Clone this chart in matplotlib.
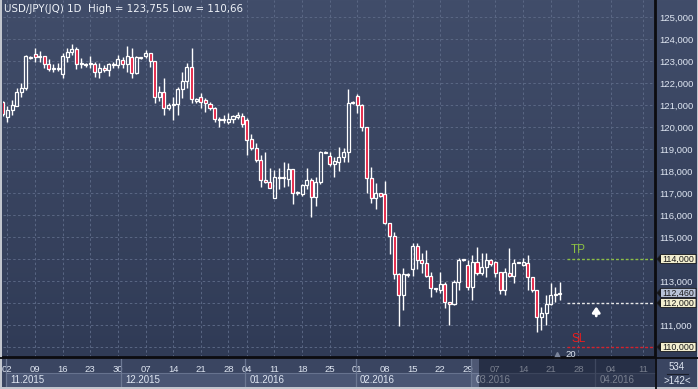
import numpy as np
import matplotlib
matplotlib.use("Agg")
import matplotlib.pyplot as plt
from matplotlib.patches import Rectangle, Polygon
from matplotlib.colors import LinearSegmentedColormap

# ---------------- data ----------------
opens = [121.15, 120.47, 120.77, 120.97, 121.58, 121.76, 123.2, 123.3, 123.18, 123.23,
         122.85, 122.64, 122.65, 122.4, 123.2, 123.42, 123.55, 122.86, 122.88, 122.86,
         122.85, 122.48, 122.7, 122.58, 122.85, 122.8, 123.05, 122.88, 123.2, 122.45,
         123.14, 123.23, 123.35, 123.0, 121.38, 121.58, 120.85, 121.0, 121.03, 121.73,
         122.1, 122.71, 121.18, 121.36, 121.23, 121.03, 120.85, 120.35, 120.32, 120.24,
         120.38, 120.46, 120.52, 120.3, 119.44, 119.03, 118.5, 117.58, 117.48, 116.79,
         117.74, 117.69, 117.65, 118.08, 117.0, 116.95, 117.35, 117.59, 116.83, 117.48,
         118.86, 118.7, 118.32, 118.42, 118.62, 118.86, 121.1, 121.41, 121.0, 119.98,
         117.7, 116.76, 116.98, 116.94, 115.65, 115.05, 113.3, 112.35, 113.3, 113.53,
         114.59, 113.95, 113.83, 113.23, 112.67, 112.59, 112.86, 112.06, 111.95, 112.97,
         113.98, 113.73, 112.71, 113.85, 113.35, 113.62, 113.95, 113.85, 113.42, 112.59,
         113.38, 113.23, 113.82, 113.73, 113.8, 113.2, 112.59, 111.38, 111.53, 111.95,
         112.38, 112.41]
highs = [121.2, 120.97, 121.23, 121.79, 121.98, 123.27, 123.25, 123.58, 123.47, 123.25,
         123.08, 122.85, 122.89, 123.35, 123.58, 123.755, 123.65, 123.12, 122.9, 123.24,
         122.97, 122.9, 122.82, 122.9, 122.97, 123.27, 123.2, 123.68, 123.58, 123.25,
         123.2, 123.5, 123.38, 123.0, 121.88, 122.24, 121.08, 121.38, 121.83, 122.48,
         122.89, 123.6, 121.3, 121.53, 121.3, 121.15, 120.92, 120.47, 120.55, 120.62,
         120.55, 120.7, 120.62, 120.39, 119.68, 119.26, 118.73, 118.85, 118.12, 118.05,
         118.12, 118.42, 118.38, 118.1, 117.1, 117.41, 118.12, 117.67, 117.74, 118.91,
         118.9, 118.86, 118.62, 119.08, 119.03, 121.71, 121.16, 121.5, 121.05, 120.02,
         118.2, 117.44, 117.0, 117.55, 115.65, 115.24, 113.35, 113.58, 113.35, 114.74,
         114.74, 114.26, 114.4, 113.42, 112.7, 113.42, 112.97, 112.06, 113.05, 114.03,
         114.0, 113.95, 114.18, 114.56, 114.26, 114.26, 114.0, 113.92, 113.42, 113.58,
         114.48, 113.98, 113.87, 114.03, 114.18, 113.2, 112.59, 111.83, 112.36, 112.9,
         112.74, 112.97]
lows = [120.5, 120.24, 120.55, 120.95, 121.38, 121.7, 123.1, 122.97, 122.97, 122.67,
        122.55, 122.52, 122.55, 122.21, 122.97, 123.27, 122.62, 122.67, 122.75, 122.67,
        122.29, 122.23, 122.52, 122.3, 122.67, 122.67, 122.7, 122.52, 122.24, 122.4,
        123.1, 123.12, 122.71, 121.08, 121.18, 120.55, 120.77, 120.32, 120.55, 121.3,
        121.76, 121.08, 121.08, 120.85, 120.7, 120.77, 120.21, 120.02, 120.2, 120.15,
        120.2, 120.35, 120.0, 118.73, 118.95, 118.42, 117.29, 117.44, 117.21, 116.79,
        117.2, 117.29, 117.32, 116.5, 116.9, 116.85, 117.2, 115.92, 116.41, 117.41,
        118.83, 118.23, 117.74, 118.0, 118.41, 118.42, 121.05, 120.65, 119.83, 117.02,
        116.53, 116.26, 116.83, 115.59, 114.23, 113.09, 110.97, 111.68, 113.2, 113.23,
        113.53, 113.35, 113.2, 112.29, 112.52, 112.44, 111.76, 111.0, 111.9, 112.59,
        113.93, 112.59, 112.14, 113.27, 113.27, 113.2, 113.7, 113.2, 112.41, 112.36,
        113.2, 112.92, 113.8, 113.7, 112.59, 112.52, 110.7, 110.77, 111.0, 111.9,
        112.06, 112.14]
closes = [120.58, 120.77, 121.0, 121.58, 121.76, 123.23, 123.12, 123.18, 123.23, 122.85,
          122.62, 122.67, 122.64, 123.24, 123.39, 123.53, 122.85, 122.88, 122.8, 122.88,
          122.48, 122.7, 122.58, 122.85, 122.83, 123.08, 122.85, 123.24, 122.44, 123.2,
          123.16, 123.35, 123.0, 121.38, 121.58, 120.85, 121.0, 121.05, 121.73, 122.1,
          122.71, 121.26, 121.26, 121.12, 121.1, 120.85, 120.35, 120.33, 120.35, 120.38,
          120.48, 120.55, 120.12, 119.41, 119.03, 118.5, 117.59, 117.5, 117.24, 117.74,
          117.7, 117.72, 118.08, 116.99, 117.02, 117.35, 117.59, 116.83, 117.48, 118.86,
          118.85, 118.32, 118.45, 118.62, 118.86, 121.08, 121.14, 121.0, 119.98, 117.7,
          116.76, 116.98, 116.86, 115.65, 115.05, 113.3, 112.35, 113.3, 113.27, 114.59,
          113.95, 113.8, 113.23, 112.67, 112.63, 112.86, 112.06, 111.95, 112.97, 113.95,
          113.95, 112.71, 113.85, 113.35, 113.62, 113.95, 113.77, 113.38, 112.59, 113.42,
          113.23, 113.8, 113.85, 113.85, 113.2, 112.59, 111.38, 111.53, 111.95, 112.36,
          112.41, 112.46]

price_ticks = list(range(110, 126))
week_idx = [1, 7, 13, 19, 25, 31, 37, 43, 49, 53, 59, 65, 71, 77, 83, 89, 95, 101,
            107, 113, 119, 125, 132, 139]
week_labels = ['02', '09', '16', '23', '30', '07', '14', '21', '28', '04', '11', '18',
               '25', '01', '08', '15', '22', '29', '07', '14', '21', '28', '04', '11']
month_idx = [1, 26, 53, 77, 102, 129]
month_labels = ['11.2015', '12.2015', '01.2016', '02.2016', '03.2016', '04.2016']

title = "USD/JPY(JQ) 1D  High = 123,755 Low = 110,66"
tp_level = 114.0
entry_level = 112.0
sl_level = 110.0
last_price = 112.46
tag_levels = [114.0, 112.0, 110.0]
bars_total = "534"
bars_visible = ">142<"
lot_label = "20"

# ---------------- layout ----------------
plt.rcParams['font.family'] = ['Liberation Sans', 'DejaVu Sans']
W, H = 698, 389
PL, PR, PT, PB = 3, 655, 0, 357
FS = 6.8
LBL = '#dfe6f2'

fig = plt.figure(figsize=(W / 100, H / 100), dpi=100)
fig.patch.set_facecolor('#3a4561')

bg = fig.add_axes([0, 0, 1, 1], zorder=0)
bg.set_xlim(0, W)
bg.set_ylim(H, 0)
bg.axis('off')
grad = np.linspace(0, 1, 256).reshape(-1, 1)
cmap = LinearSegmentedColormap.from_list('g', ['#414d6a', '#303b56'])
bg.imshow(grad, cmap=cmap, extent=(0, W, PB, 0), aspect='auto', zorder=0)
bg.add_patch(Rectangle((0, PB), W, H - PB, color='#3a4561', zorder=1))

ax = fig.add_axes([PL / W, (H - PB) / H, (PR - PL) / W, (PB - PT) / H], zorder=2)
ax.patch.set_visible(False)
xmin, xmax = 0.04, 141.66
ax.set_xlim(xmin, xmax)
ax.set_ylim(109.545, 125.773)

for s in ['top', 'left']:
    ax.spines[s].set_visible(False)
for s in ['bottom', 'right']:
    ax.spines[s].set_color('#0c0c10')
    ax.spines[s].set_linewidth(1.3)

ax.set_axisbelow(True)
ax.grid(True, color='#5a6784', ls=(0, (2.5, 2.5)), lw=0.7)

ax.yaxis.tick_right()
ax.set_yticks(price_ticks)
ax.set_yticklabels(['' if t in tag_levels else f"{t},000" for t in price_ticks])
ax.tick_params(axis='y', length=0, pad=3, labelsize=FS, labelcolor=LBL)
ax.set_xticks(week_idx)
ax.set_xticklabels(week_labels)
ax.tick_params(axis='x', length=0, pad=5.5, labelsize=FS, labelcolor=LBL)

# candles
RED = '#e3163a'
bw = 0.66
for k, (o, h, l, c) in enumerate(zip(opens, highs, lows, closes)):
    lo, hi = min(o, c), max(o, c)
    if hi - lo < 0.045:
        m = (hi + lo) / 2
        lo, hi = m - 0.025, m + 0.025
    ax.plot([k, k], [l, lo], color='white', lw=1.0, zorder=3, solid_capstyle='butt')
    ax.plot([k, k], [hi, h], color='white', lw=1.0, zorder=3, solid_capstyle='butt')
    fc = RED if c < o - 0.01 else 'none'
    ax.add_patch(Rectangle((k - bw / 2, lo), bw, hi - lo, facecolor=fc,
                           edgecolor='white', lw=0.9, zorder=4))

# order levels
x_start = 122.5
ax.hlines(tp_level, x_start, xmax, colors='#8cc043', linestyles=(0, (2, 1.5)), lw=1, zorder=3)
ax.hlines(entry_level, x_start, xmax, colors='#e8e8e8', linestyles=(0, (2, 1.5)), lw=1, zorder=3)
ax.hlines(sl_level, x_start, xmax, colors='#d8202a', linestyles=(0, (2, 1.5)), lw=1, zorder=3)
ax.text(123.4, 114.42, 'TP', color='#8cc043', fontsize=8.5, ha='left', va='center')
ax.text(123.5, 110.38, 'SL', color='#ee1c1c', fontsize=8.5, ha='left', va='center')
ax.annotate('', xy=(128.9, 111.84), xytext=(128.9, 111.41),
            arrowprops=dict(arrowstyle='-|>,head_width=0.22,head_length=0.32',
                            color='white', lw=2.0, shrinkA=0, shrinkB=0))
ax.text(123.3, 109.66, lot_label, color=LBL, fontsize=FS, ha='center', va='center', clip_on=False)
ax.plot([120.4], [109.63], marker='^', ms=4.5, color='#7c869c', clip_on=False, zorder=5)

# price tags on the right axis
yt = ax.get_yaxis_transform()


def axx(px):
    return (px - PL) / (PR - PL)


def tag(p, text, face):
    hh = 0.205
    ax.add_patch(Polygon([(axx(657), p), (axx(661), p + hh), (axx(696), p + hh),
                          (axx(696), p - hh), (axx(661), p - hh)], closed=True,
                         transform=yt, facecolor=face, edgecolor='#15161a', lw=0.6,
                         clip_on=False, zorder=6))
    ax.add_patch(Polygon([(axx(657), p), (axx(661), p + hh), (axx(661), p - hh)],
                         closed=True, transform=yt, facecolor='#15161a', lw=0,
                         clip_on=False, zorder=7))
    ax.text(axx(662), p, text, transform=yt, fontsize=FS - 0.4, color='#1a1a1a',
            ha='left', va='center', clip_on=False, zorder=8)


for lv in tag_levels:
    tag(lv, f"{lv:.3f}".replace('.', ','), '#f2eecf')
tag(last_price, f"{last_price:.3f}".replace('.', ','), '#b8c2d6')

# month boxes
xt = ax.get_xaxis_transform()
y_top, y_bot = (PB - 373) / (PB - PT), (PB - 387) / (PB - PT)
bounds = month_idx + [xmax + 5]
for i, (m, lab) in enumerate(zip(month_idx, month_labels)):
    x0 = m - 0.3
    x1 = min(bounds[i + 1] - 0.3, xmax)
    ax.add_patch(Rectangle((x0, y_bot), x1 - x0, y_top - y_bot, transform=xt,
                           facecolor='#4a5674', edgecolor='none', clip_on=False, zorder=1))
    ax.plot([x0, x1], [y_top, y_top], transform=xt, color='#66728e', lw=0.8, clip_on=False)
    ax.plot([x0, x0], [-0.005, y_bot], transform=xt, color='#6c7893', lw=0.9, clip_on=False)
    ax.text(x0 + 0.9, (y_top + y_bot) / 2, lab, transform=xt, fontsize=FS + 0.2,
            color=LBL, ha='left', va='center', clip_on=False)

# overlay: dimmed range, separators, frame, corner box
ov = fig.add_axes([0, 0, 1, 1], zorder=10)
ov.set_xlim(0, W)
ov.set_ylim(H, 0)
ov.axis('off')
ov.add_patch(Rectangle((472, 358), 7, 29, color='#8a94ae', alpha=0.25, lw=0))
ov.add_patch(Rectangle((479, 358), PR - 479, 29, color='#141a2c', alpha=0.5, lw=0))
ov.plot([0, W], [PB + 0.5, PB + 0.5], color='#0c0c10', lw=1.3)
ov.plot([PR + 0.5, PR + 0.5], [0, H], color='#0c0c10', lw=1.3)
ov.text(677, 367, bars_total, fontsize=FS + 0.2, color=LBL, ha='center', va='center')
ov.plot([667, 688], [373.5, 373.5], color='#1a1e2a', lw=0.8)
ov.text(677, 381, bars_visible, fontsize=FS + 0.2, color=LBL, ha='center', va='center')
ov.add_patch(Rectangle((0, 0), 1.6, H, color='#c2c6ce', lw=0))
ov.add_patch(Rectangle((0, 387), W, 2, color='#c2c6ce', lw=0))
ov.add_patch(Rectangle((W - 1.5, 0), 1.5, H, color='#c2c6ce', lw=0))
ov.text(4, 8.5, title, fontsize=7.4, color='#eef2f8', ha='left', va='center',
        family=['DejaVu Sans'])

fig.savefig('out.png', dpi=100, facecolor=fig.get_facecolor())
